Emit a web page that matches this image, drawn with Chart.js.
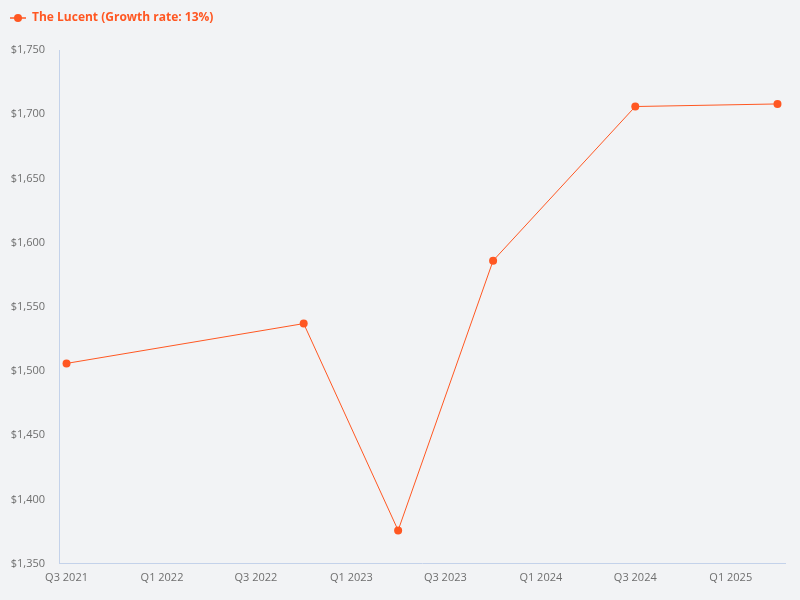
<!DOCTYPE html>
<html>
<head>
<meta charset="utf-8">
<script src="https://cdn.jsdelivr.net/npm/chart.js@4/dist/chart.umd.min.js"></script>
<style>
  html, body { margin: 0; padding: 0; background: #F2F3F5; }
  #wrap { width: 800px; height: 600px; }
</style>
</head>
<body>
<div id="wrap"><canvas id="c" width="800" height="600"></canvas></div>
<script>
const seriesName = "The Lucent (Growth rate: 13%)";
const dates = ["2021-07-01", "2022-10-01", "2023-04-01", "2023-10-01", "2024-07-01", "2025-04-01"];
const values = [1506, 1537, 1376, 1586, 1706, 1708];
const tickDates = ["2021-07-01", "2022-01-01", "2022-07-01", "2023-01-01", "2023-07-01", "2024-01-01", "2024-07-01", "2025-01-01"];
const tickLabels = ["Q3 2021", "Q1 2022", "Q3 2022", "Q1 2023", "Q3 2023", "Q1 2024", "Q3 2024", "Q1 2025"];
const yMin = 1350, yMax = 1750, yStep = 50;

const COLOR = "#FF5722";
const AXIS = "#C4D2EA";
const DAY = 86400000;
const toMs = s => Date.parse(s + "T00:00:00Z");
const points = dates.map((d, i) => ({ x: toMs(d), y: values[i] }));
const tickMs = tickDates.map(toMs);

// legend marker: short line with a dot
const marker = document.createElement("canvas");
marker.width = 16; marker.height = 10;
(function () {
  const m = marker.getContext("2d");
  m.strokeStyle = COLOR; m.lineWidth = 1.5;
  m.beginPath(); m.moveTo(0, 5); m.lineTo(16, 5); m.stroke();
  m.fillStyle = COLOR;
  m.beginPath(); m.arc(8, 5, 4, 0, Math.PI * 2); m.fill();
})();

// extra space below the legend
const legendSpacer = {
  id: "legendSpacer",
  beforeLayout(chart) {
    const lg = chart.legend;
    if (lg && !lg._spaced) {
      const orig = lg.fit;
      lg.fit = function () { orig.call(this); this.height += 16; };
      lg._spaced = true;
    }
  }
};

new Chart(document.getElementById("c"), {
  type: "line",
  data: {
    datasets: [{
      label: seriesName,
      data: points,
      borderColor: COLOR,
      backgroundColor: COLOR,
      borderWidth: 1,
      pointRadius: 4,
      pointHoverRadius: 4,
      pointBackgroundColor: COLOR,
      pointBorderWidth: 0,
      tension: 0,
      fill: false
    }]
  },
  plugins: [legendSpacer],
  options: {
    responsive: false,
    animation: false,
    devicePixelRatio: 1,
    layout: { padding: { left: 0, right: 15, top: 2, bottom: 9 } },
    plugins: {
      tooltip: { enabled: false },
      legend: {
        display: true,
        position: "top",
        align: "start",
        labels: {
          usePointStyle: true,
          pointStyleWidth: 16,
          padding: 10,
          color: COLOR,
          font: { family: "'Open Sans'", size: 12, weight: "bold" },
          generateLabels: (chart) => chart.data.datasets.map((ds, i) => ({
            text: ds.label,
            fillStyle: COLOR,
            strokeStyle: COLOR,
            fontColor: COLOR,
            lineWidth: 0,
            pointStyle: marker,
            datasetIndex: i,
            hidden: false
          }))
        }
      }
    },
    scales: {
      x: {
        type: "linear",
        min: toMs(dates[0]) - 14.5 * DAY,
        max: toMs(dates[dates.length - 1]) + 14.5 * DAY,
        grid: { display: false, drawTicks: false },
        border: { display: true, color: AXIS, width: 1 },
        afterBuildTicks: (axis) => { axis.ticks = tickMs.map(v => ({ value: v })); },
        afterFit: (axis) => { axis.paddingLeft = 0; axis.paddingRight = 0; },
        ticks: {
          padding: 7,
          color: "#6E6E6E",
          autoSkip: false,
          maxRotation: 0,
          font: { family: "'Open Sans'", size: 11 },
          callback: (v) => { const i = tickMs.indexOf(v); return i >= 0 ? tickLabels[i] : ""; }
        }
      },
      y: {
        min: yMin,
        max: yMax,
        grid: { display: false, drawTicks: false },
        border: { display: true, color: AXIS, width: 1 },
        afterFit: (axis) => { axis.width = 59; },
        ticks: {
          stepSize: yStep,
          padding: 14,
          color: "#6E6E6E",
          font: { family: "'Open Sans'", size: 11 },
          callback: (v) => "$" + v.toLocaleString("en-US")
        }
      }
    }
  }
});
</script>
</body>
</html>
